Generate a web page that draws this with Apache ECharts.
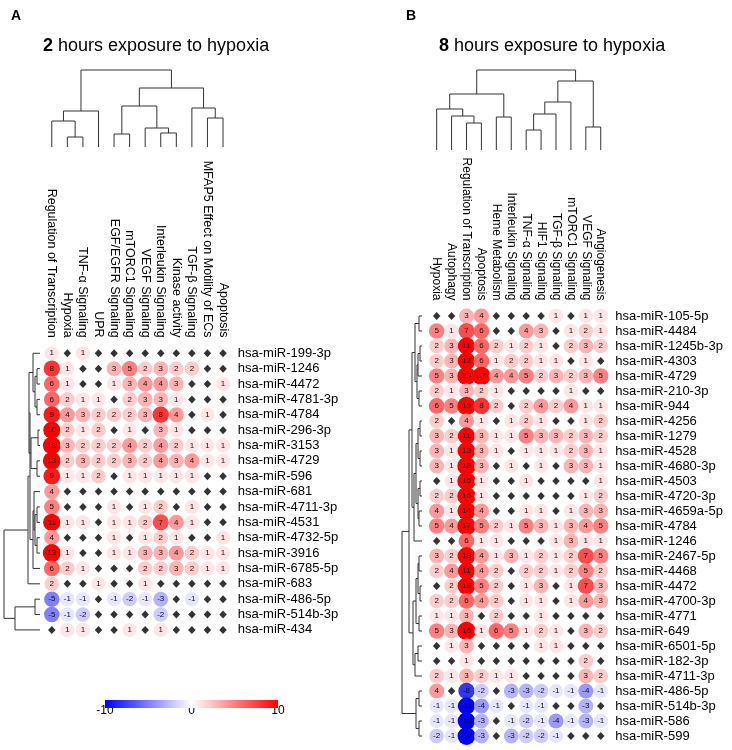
<!DOCTYPE html>
<html><head><meta charset="utf-8">
<script src="https://cdn.jsdelivr.net/npm/echarts@6/dist/echarts.min.js"></script>
<style>html,body{margin:0;padding:0;background:#fff}#c{width:732px;height:750px}</style>
</head><body><div id="c"></div>
<script>
// ---------- DATA ----------
const colsA = ['Regulation of Transcription','Hypoxia','TNF-α Signaling','UPR','EGF/EGFR Signaling','mTORC1 Signaling','VEGF Signaling','Interleukin Signaling','Kinase activity','TGF-β Signaling','MFAP5 Effect on Motility of ECs','Apoptosis'];
const rowsA = ['hsa-miR-199-3p','hsa-miR-1246','hsa-miR-4472','hsa-miR-4781-3p','hsa-miR-4784','hsa-miR-296-3p','hsa-miR-3153','hsa-miR-4729','hsa-miR-596','hsa-miR-681','hsa-miR-4711-3p','hsa-miR-4531','hsa-miR-4732-5p','hsa-miR-3916','hsa-miR-6785-5p','hsa-miR-683','hsa-miR-486-5p','hsa-miR-514b-3p','hsa-miR-434'];
// 0 = not significant (drawn as a black diamond)
const valuesA = [
  [1,0,1,0,0,0,0,0,0,0,0,0],
  [8,1,0,0,3,5,2,3,2,2,0,0],
  [6,1,0,0,1,3,4,4,3,0,0,1],
  [6,2,1,1,0,2,3,3,1,0,0,0],
  [9,4,3,2,2,2,3,8,4,0,1,0],
  [10,2,1,2,0,1,0,3,1,0,0,0],
  [13,3,2,2,2,4,2,4,2,1,1,1],
  [13,2,3,2,2,3,2,4,3,4,1,1],
  [9,1,1,2,0,1,1,1,1,1,0,0],
  [4,0,0,0,0,0,0,0,0,0,0,0],
  [5,0,0,0,1,0,1,2,0,1,0,0],
  [11,1,1,0,1,1,2,7,4,1,0,0],
  [4,0,0,0,1,0,1,2,1,0,0,1],
  [13,1,0,0,1,1,3,3,4,2,1,1],
  [6,2,1,0,0,0,2,2,3,2,1,1],
  [2,0,0,1,0,0,1,0,0,0,0,0],
  [-5,-1,-1,0,-1,-2,-1,-3,0,-1,0,0],
  [-5,-1,-2,0,0,0,0,-2,0,0,0,0],
  [0,1,1,0,0,1,0,1,0,0,0,0]
];
const colsB = ['Hypoxia','Autophagy','Regulation of Transcription','Apoptosis','Heme Metabolism','Interleukin Signaling','TNF-α Signaling','HIF1 Signaling','TGF-β Signaling','mTORC1 Signaling','VEGF Signaling','Angiogenesis'];
const rowsB = ['hsa-miR-105-5p','hsa-miR-4484','hsa-miR-1245b-3p','hsa-miR-4303','hsa-miR-4729','hsa-miR-210-3p','hsa-miR-944','hsa-miR-4256','hsa-miR-1279','hsa-miR-4528','hsa-miR-4680-3p','hsa-miR-4503','hsa-miR-4720-3p','hsa-miR-4659a-5p','hsa-miR-4784','hsa-miR-1246','hsa-miR-2467-5p','hsa-miR-4468','hsa-miR-4472','hsa-miR-4700-3p','hsa-miR-4771','hsa-miR-649','hsa-miR-6501-5p','hsa-miR-182-3p','hsa-miR-4711-3p','hsa-miR-486-5p','hsa-miR-514b-3p','hsa-miR-586','hsa-miR-599'];
const valuesB = [
  [0,0,3,4,0,0,0,0,1,0,1,1],
  [5,1,7,6,0,0,4,3,0,1,2,1],
  [2,3,11,6,2,1,2,1,0,2,3,2],
  [2,3,12,6,1,2,2,1,1,0,1,0],
  [5,3,29,17,4,4,5,2,3,2,3,5],
  [2,1,3,2,1,0,0,0,0,1,0,0],
  [6,5,15,8,2,0,2,4,2,4,1,1],
  [2,0,4,1,0,1,2,1,0,0,1,2],
  [3,2,11,3,1,1,5,3,3,2,3,2],
  [3,1,13,3,1,0,1,1,1,2,3,1],
  [3,1,18,3,0,1,0,1,0,3,3,1],
  [0,1,16,1,0,0,1,0,0,0,0,1],
  [2,2,16,1,0,0,0,0,0,0,1,2],
  [4,1,14,4,0,0,1,1,0,1,3,3],
  [5,4,17,5,2,1,5,3,1,3,4,5],
  [0,0,6,1,1,0,0,0,1,3,1,1],
  [3,2,13,4,1,3,1,2,1,2,7,5],
  [2,4,11,4,2,0,2,2,1,2,5,2],
  [0,2,13,5,2,0,1,3,0,1,7,3],
  [2,2,6,4,2,0,1,1,0,1,4,3],
  [1,1,3,0,2,0,0,1,0,0,0,0],
  [5,3,16,1,6,5,1,2,1,0,3,2],
  [0,1,3,0,0,0,0,1,1,0,0,0],
  [0,0,1,0,0,0,0,0,0,0,2,0],
  [2,1,3,2,1,1,0,0,0,0,3,2],
  [4,0,-8,-2,0,-3,-3,-2,-1,-1,-4,-1],
  [-1,-1,-11,-4,-1,0,-1,-1,0,0,-3,0],
  [-1,-1,-12,-3,0,-1,-2,-1,-4,-1,-3,-1],
  [-2,-1,-13,-3,0,-3,-2,-2,-1,0,0,0]
];
// dendrogram merges (hclust style: -k = leaf k (1-based), +m = merge m), third item = height
const colTreeA = [[-2,-3,10],[-1,1,26],[2,-4,36],[-5,-6,13],[-8,-9,14],[-7,5,19],[4,6,41],[-11,-12,29],[-10,8,39],[7,9,59],[3,10,77]];
const rowTreeA = [[-2,-3,3],[-4,-5,3],[1,2,5],[-1,3,7],[-6,-7,2],[-8,-9,3],[5,6,9],[4,7,11],[-11,-12,3],[-13,-14,3],[9,10,5],[-10,11,6],[12,-15,7],[8,13,10],[14,-16,12],[-17,-18,5],[16,-19,25],[15,17,36]];
const colTreeB = [[-3,-4,27],[-2,1,34],[-1,2,41],[-5,-6,33],[3,4,56],[-7,-8,20],[6,-9,36],[7,-10,48],[-11,-12,23],[8,9,69],[5,10,80]];
const rowTreeB = [[-1,-2,3],[-3,-4,2],[2,-5,4],[-6,-7,3],[3,4,5],[1,5,7],[-8,-9,2],[-10,-11,2],[7,8,4],[-12,-13,2],[-14,-15,3],[10,11,4],[9,12,6],[13,-16,8],[6,14,10],[-17,-18,3],[-19,-20,2],[16,17,4],[-21,-22,3],[18,19,6],[-23,-24,4],[21,-25,7],[20,22,9],[15,23,13],[-26,-27,3],[-28,-29,3],[25,26,6],[24,27,20]];
const colorbarTicks = [-10, 0, 10];

// ---------- helpers ----------
function cells(values) {
  const circles = [], zeros = [];
  values.forEach((row, r) => row.forEach((v, c) => {
    if (v === 0) zeros.push([c, r]); else circles.push([c, r, v]);
  }));
  return { circles, zeros };
}
function treeSegs(merges) {
  const nodes = [];
  const get = k => k < 0 ? { p: -k - 1, h: 0 } : nodes[k - 1];
  const segs = [];
  merges.forEach(m => {
    const a = get(m[0]), b = get(m[1]);
    segs.push([a.p, a.h, b.p, b.h, m[2]]);
    nodes.push({ p: (a.p + b.p) / 2, h: m[2] });
  });
  return segs;
}
const FONT = 'Liberation Sans, Arial, sans-serif';
const cA = cells(valuesA), cB = cells(valuesB);
const sizeFn = v => 14 + Math.min(Math.abs(v[2]), 15) * 0.3;

function circleSeries(data, idx) {
  return {
    type: 'scatter', xAxisIndex: idx, yAxisIndex: idx, data: data,
    symbol: 'circle', symbolSize: sizeFn,
    label: { show: true, formatter: p => String(p.value[2]), fontSize: 8, color: '#111', fontFamily: FONT },
    itemStyle: { opacity: 1 }, silent: true
  };
}
function diamondSeries(data, idx) {
  return {
    type: 'scatter', xAxisIndex: idx, yAxisIndex: idx, data: data,
    symbol: 'diamond', symbolSize: [7.5, 8], itemStyle: { color: '#000' }, silent: true
  };
}
function dendro(segs, idx, vertical) {
  return {
    type: 'custom', xAxisIndex: idx, yAxisIndex: idx, silent: true, clip: false, data: segs,
    renderItem: function (params, api) {
      const a = api.value(0), ha = api.value(1), b = api.value(2), hb = api.value(3), h = api.value(4);
      const P = vertical ? (p, hh) => api.coord([p, hh]) : (p, hh) => api.coord([hh, p]);
      return { type: 'polyline', shape: { points: [P(a, ha), P(a, h), P(b, h), P(b, hb)] },
        style: { stroke: '#333', lineWidth: 1, fill: null } };
    }
  };
}
const hidden = { show: false };
function catX(data, g, fs) {
  return { type: 'category', gridIndex: g, data: data, position: 'top',
    axisLine: hidden, axisTick: hidden, splitLine: hidden,
    axisLabel: { rotate: 90, interval: 0, fontSize: fs, color: '#000', margin: 8, fontFamily: FONT } };
}
function catY(data, g) {
  return { type: 'category', gridIndex: g, data: data, position: 'right', inverse: true,
    axisLine: hidden, axisTick: hidden, splitLine: hidden,
    axisLabel: { interval: 0, fontSize: 13, color: '#000', margin: 7, fontFamily: FONT } };
}
function valAx(g, min, max, inverse) {
  return { type: 'value', gridIndex: g, min: min, max: max, inverse: !!inverse, show: false };
}

const grids = [
  { left: 44, top: 345.6, width: 186.8, height: 292 },   // 0 A main
  { left: 44, top: 70, width: 186.8, height: 77 },       // 1 A col dendro
  { left: 3, top: 345.6, width: 37, height: 292 },       // 2 A row dendro
  { left: 429.2, top: 308.5, width: 179, height: 435 },  // 3 B main
  { left: 429.2, top: 70, width: 179, height: 80 },      // 4 B col dendro
  { left: 402, top: 308.5, width: 20, height: 435 },     // 5 B row dendro
  { left: 105, top: 700, width: 173, height: 8 }         // 6 colorbar
];

const titleStyle = { fontSize: 18, fontWeight: 'normal', color: '#000', fontFamily: FONT,
  rich: { b: { fontSize: 18, fontWeight: 'bold', color: '#000', fontFamily: FONT } } };

const option = {
  animation: false,
  backgroundColor: '#fff',
  textStyle: { fontFamily: FONT },
  title: [
    { text: 'A', left: 6, top: 4, textStyle: { fontSize: 14, fontWeight: 'bold', color: '#000', fontFamily: FONT } },
    { text: 'B', left: 401, top: 4, textStyle: { fontSize: 14, fontWeight: 'bold', color: '#000', fontFamily: FONT } },
    { text: '{b|2} hours exposure to hypoxia', left: 38, top: 32, textStyle: titleStyle },
    { text: '{b|8} hours exposure to hypoxia', left: 434, top: 32, textStyle: titleStyle }
  ],
  grid: grids,
  xAxis: [
    catX(colsA, 0, 12.5), valAx(1, -0.5, colsA.length - 0.5), valAx(2, 0, 37, true),
    catX(colsB, 3, 12), valAx(4, -0.5, colsB.length - 0.5), valAx(5, 0, 20, true),
    { type: 'value', gridIndex: 6, min: colorbarTicks[0], max: colorbarTicks[colorbarTicks.length - 1],
      interval: 10, axisLine: hidden, axisTick: hidden, splitLine: hidden,
      axisLabel: { fontSize: 12, color: '#000', margin: -3, fontFamily: FONT } }
  ],
  yAxis: [
    catY(rowsA, 0), valAx(1, 0, 77), valAx(2, -0.5, rowsA.length - 0.5, true),
    catY(rowsB, 3), valAx(4, 0, 80), valAx(5, -0.5, rowsB.length - 0.5, true),
    valAx(6, 0, 1)
  ],
  visualMap: {
    type: 'continuous', show: false, min: -10, max: 10, dimension: 2, seriesIndex: [0, 2],
    inRange: { color: ['#0000ff', '#ffffff', '#ff0000'] }
  },
  series: [
    circleSeries(cA.circles, 0),
    diamondSeries(cA.zeros, 0),
    circleSeries(cB.circles, 3),
    diamondSeries(cB.zeros, 3),
    dendro(treeSegs(colTreeA), 1, true),
    dendro(treeSegs(rowTreeA), 2, false),
    dendro(treeSegs(colTreeB), 4, true),
    dendro(treeSegs(rowTreeB), 5, false),
    {
      type: 'custom', xAxisIndex: 6, yAxisIndex: 6, silent: true,
      data: [[colorbarTicks[0], colorbarTicks[colorbarTicks.length - 1]]],
      renderItem: function (params, api) {
        const p1 = api.coord([api.value(0), 1]), p2 = api.coord([api.value(1), 0]);
        return { type: 'rect', shape: { x: p1[0], y: p1[1], width: p2[0] - p1[0], height: p2[1] - p1[1] },
          style: { fill: new echarts.graphic.LinearGradient(0, 0, 1, 0, [
            { offset: 0, color: '#0000ff' }, { offset: 0.5, color: '#ffffff' }, { offset: 1, color: '#ff0000' }]) } };
      }
    }
  ]
};
const chart = echarts.init(document.getElementById('c'), null, { renderer: 'canvas' });
chart.setOption(option);
</script></body></html>
